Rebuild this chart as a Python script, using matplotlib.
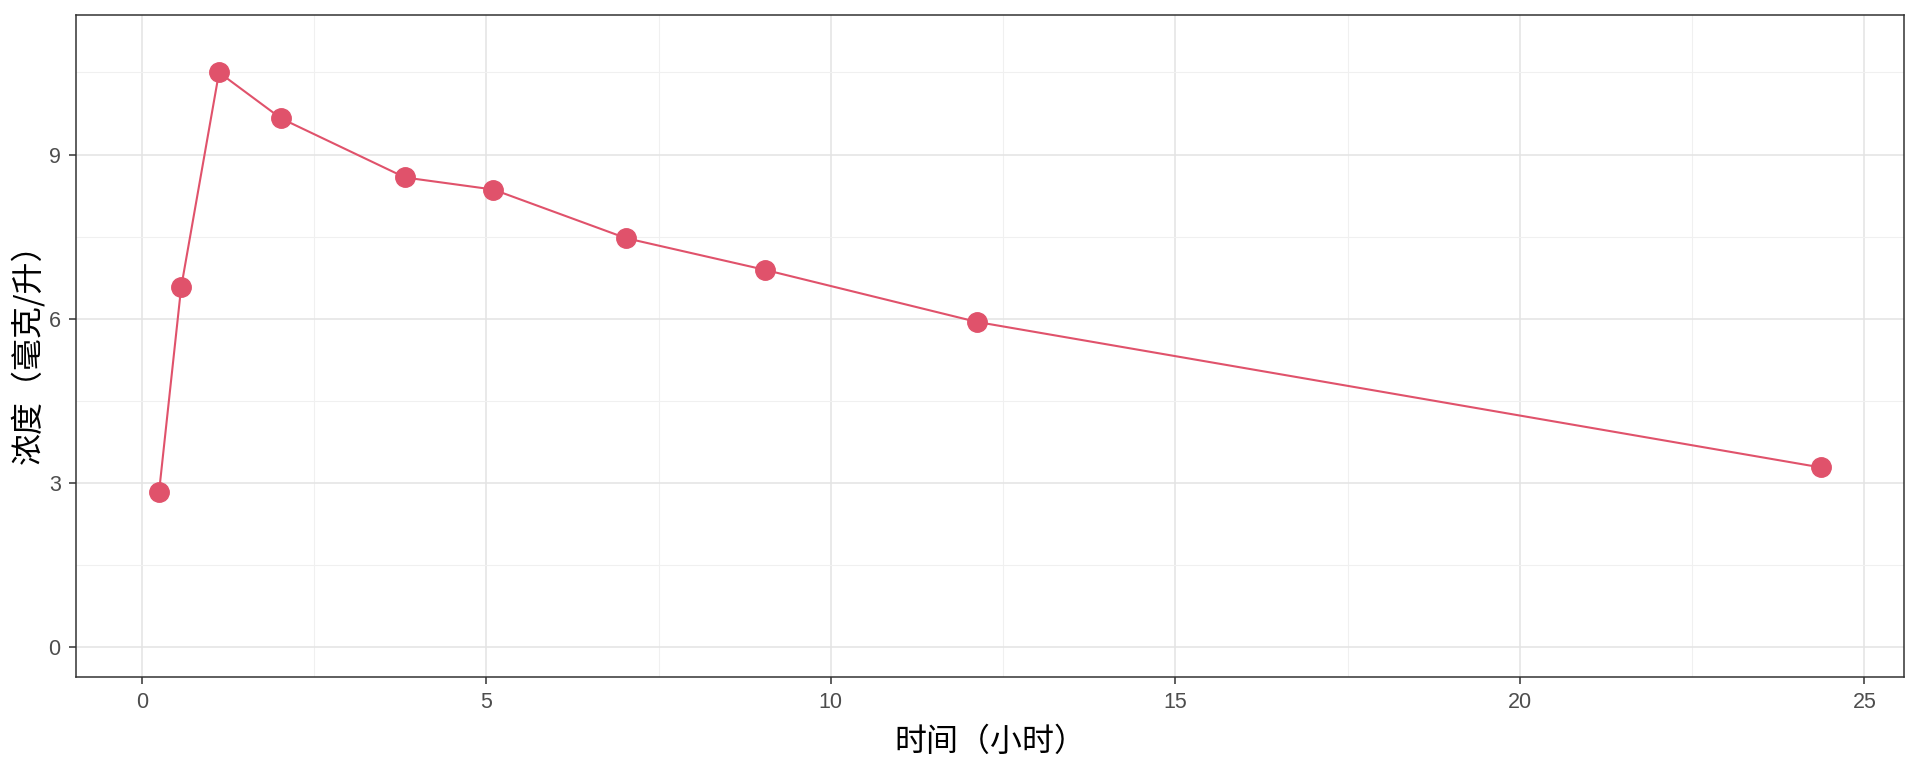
import matplotlib
matplotlib.use('Agg')
import matplotlib.pyplot as plt
from matplotlib.ticker import MultipleLocator

# Theoph subject 1 (time > 0)
time_h = [0.25, 0.57, 1.12, 2.02, 3.82, 5.10, 7.03, 9.05, 12.12, 24.37]
conc = [2.84, 6.57, 10.50, 9.66, 8.58, 8.36, 7.47, 6.89, 5.94, 3.28]

x_label = '时间（小时）'
y_label = '浓度（毫克/升）'
col = '#E0526B'

fig = plt.figure(figsize=(19.2, 7.68), dpi=100)
ax = fig.add_axes([76 / 1920, 1 - 677 / 768, (1904 - 76) / 1920, (677 - 15) / 768])

ax.plot(time_h, conc, color=col, lw=1.5, zorder=3)
ax.plot(time_h, conc, 'o', color=col, ms=14, mec=col, zorder=4)

ax.set_ylim(-0.55, 11.55)
xr = max(time_h) - min(time_h)
ax.set_xlim(min(time_h) - 0.05 * xr, max(time_h) + 0.05 * xr)

ax.xaxis.set_major_locator(MultipleLocator(5))
ax.xaxis.set_minor_locator(MultipleLocator(2.5))
ax.yaxis.set_major_locator(MultipleLocator(3))
ax.yaxis.set_minor_locator(MultipleLocator(1.5))
ax.grid(which='major', color='#E3E3E3', lw=1.1)
ax.grid(which='minor', color='#F0F0F0', lw=0.8)
ax.set_axisbelow(True)
ax.tick_params(which='minor', length=0)
ax.tick_params(which='major', length=5, width=1.1, color='#333333',
               labelsize=15.5, labelcolor='#4D4D4D', pad=6)
for lab in ax.get_xticklabels() + ax.get_yticklabels():
    lab.set_family(['Liberation Sans', 'DejaVu Sans'])
for s in ax.spines.values():
    s.set_color('#333333')
    s.set_linewidth(1.1)

fig.text(ax.get_position().x0 + ax.get_position().width / 2, 1 - 742 / 768, x_label,
         ha='center', va='center', fontsize=23, family=['Noto Sans CJK SC', 'DejaVu Sans'])
fig.text(27 / 1920, ax.get_position().y0 + ax.get_position().height / 2, y_label,
         ha='center', va='center', rotation=90, fontsize=23,
         family=['Noto Sans CJK SC', 'DejaVu Sans'])

fig.savefig('out.png', dpi=100)
